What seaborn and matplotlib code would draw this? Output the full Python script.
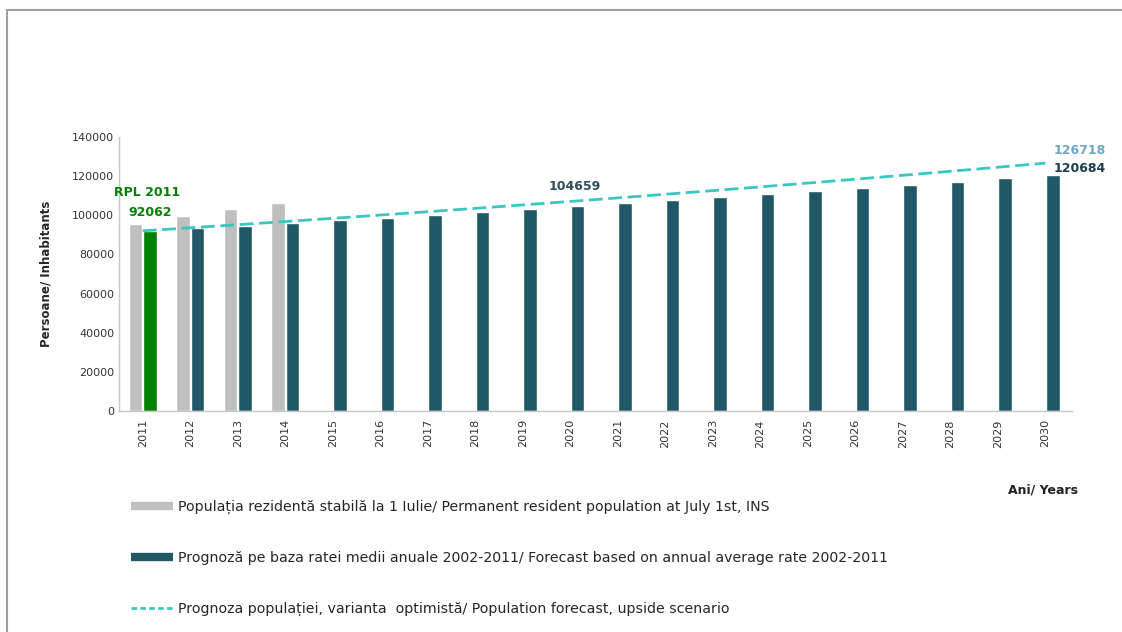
import numpy as np
import pandas as pd
import matplotlib
matplotlib.use("Agg")
import matplotlib.pyplot as plt
from matplotlib.lines import Line2D
from matplotlib import font_manager
import seaborn as sns

# data
years = [str(y) for y in range(2011, 2031)]
resident = [95800, 99700, 103100, 106400] + [np.nan] * 16
forecast = [92062, 93383, 94723, 96082, 97461, 98860, 100279, 101718, 103177, 104659,
            106161, 107684, 109230, 110797, 112387, 114000, 115636, 117295, 118978, 120684]
upside = [92062, 93623, 95211, 96826, 98468, 100138, 101836, 103563, 105320, 107106,
          108922, 110770, 112648, 114559, 116502, 118478, 120487, 122530, 124608, 126718]

lbl_resident = "Populația rezidentă stabilă la 1 Iulie/ Permanent resident population at July 1st, INS"
lbl_forecast = "Prognoză pe baza ratei medii anuale 2002-2011/ Forecast based on annual average rate 2002-2011"
lbl_upside = "Prognoza populației, varianta  optimistă/ Population forecast, upside scenario"

GREY = "#bfbfbf"
DARK = "#215866"
GREEN = "#008000"
TURQ = "#3cc6c2"

sns.set_theme(style="white")
plt.rcParams["font.family"] = ["DejaVu Sans"]

# narrow font for the legend if available
names = {f.name for f in font_manager.fontManager.ttflist}
if "Liberation Sans Narrow" in names:
    leg_font = {"family": ["Liberation Sans Narrow", "DejaVu Sans"], "size": 11.5}
else:
    leg_font = {"family": ["DejaVu Sans"], "size": 10.2}

df = pd.DataFrame({
    "year": years * 2,
    "value": resident + forecast,
    "series": ["resident"] * len(years) + ["forecast"] * len(years),
})

fig = plt.figure(figsize=(11.22, 6.32), dpi=100)
ax = fig.add_axes([0.106, 0.35, 0.849, 0.433])

sns.barplot(data=df, x="year", y="value", hue="series", order=years,
            hue_order=["resident", "forecast"],
            palette={"resident": GREY, "forecast": DARK}, saturation=1,
            width=0.62, gap=0.08, legend=False, ax=ax)
# census bar 2011 in green
ax.containers[1][0].set_facecolor(GREEN)

sns.lineplot(x=np.arange(len(years)), y=upside, color=TURQ, lw=2,
             linestyle=(0, (5, 2)), ax=ax)

ax.set_xlim(-0.5, 19.55)
ax.set_ylim(0, 140000)
ax.set_yticks(range(0, 140001, 20000))
ax.set_xlabel("")
ax.set_ylabel("Persoane/ Inhabitants", fontsize=8.5, fontweight="bold", labelpad=14)
ax.tick_params(axis="both", length=0, labelsize=8, colors="#333333")
ax.tick_params(axis="x", rotation=90, pad=6)
for s in ["top", "right"]:
    ax.spines[s].set_visible(False)
for s in ["left", "bottom"]:
    ax.spines[s].set_color("#c8c8c8")
    ax.spines[s].set_linewidth(1)

# annotations
ax.text(0.1, 111900, "RPL 2011", color=GREEN, fontsize=9, fontweight="bold", ha="center", va="center")
ax.text(0.15, 101700, "92062", color=GREEN, fontsize=9, fontweight="bold", ha="center", va="center")
ax.text(9.1, 114500, "104659", color="#2e4b5a", fontsize=9, fontweight="bold", ha="center", va="center")
ax.text(19.73, 133400, "126718", color="#6fa6c6", fontsize=9, fontweight="bold", ha="center", va="center")
ax.text(19.73, 124200, "120684", color="#1f3b4b", fontsize=9, fontweight="bold", ha="center", va="center")

fig.text(1043 / 1122, 1 - 490 / 632, "Ani/ Years", fontsize=9, fontweight="bold",
         ha="center", va="center", color="#222222")

handles = [
    Line2D([], [], color=GREY, lw=6, solid_capstyle="butt"),
    Line2D([], [], color=DARK, lw=6, solid_capstyle="butt"),
    Line2D([], [], color=TURQ, lw=2, linestyle=(0, (2, 1.2))),
]
fig.legend(handles, [lbl_resident, lbl_forecast, lbl_upside],
           loc="upper left", bbox_to_anchor=(118 / 1122, 1 - 487 / 632),
           frameon=False, handlelength=3.0, handletextpad=0.3,
           labelspacing=2.6, prop=leg_font)

# outer frame lines of the original image
fig.add_artist(Line2D([7 / 1122, 1], [1 - 10 / 632] * 2, color="#a0a0a0", lw=1.5))
fig.add_artist(Line2D([7 / 1122] * 2, [0, 1 - 10 / 632], color="#a0a0a0", lw=1.5))

fig.savefig("out.png", dpi=100)
